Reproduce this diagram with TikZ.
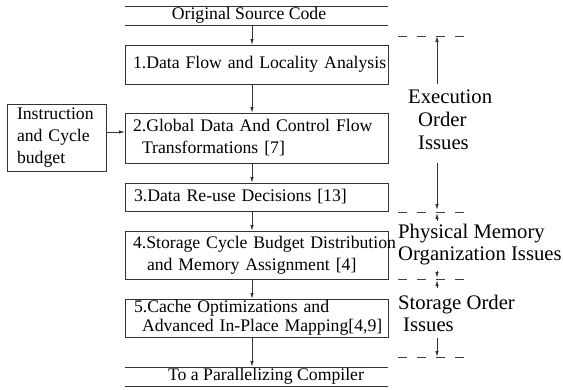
\documentclass[tikz,border=0pt]{standalone}
\usepackage{fontspec}
\setmainfont{Liberation Serif}
\usepackage{tikz}
\usetikzlibrary{arrows.meta,positioning}

\newcommand{\boxfont}{\fontsize{17.7}{22}\selectfont}
\newcommand{\tightfont}{\fontsize{17.7}{19}\selectfont}
\newcommand{\sidefont}{\fontsize{20.7}{22.8}\selectfont}
\newcommand{\steplines}[1]{\begin{tabular}{@{}l@{}}#1\end{tabular}}

\begin{document}
\begin{tikzpicture}[x=1pt, y=-1pt, node distance=20pt,
  stepbox/.style={draw=black!80, line width=0.9pt, outer sep=0pt, minimum width=263pt,
    text width=247pt, inner xsep=8pt, inner ysep=0pt, align=left, font=\boxfont},
  inbox/.style={draw=black!80, line width=0.9pt, outer sep=0pt, minimum width=99pt,
    minimum height=67pt, text width=79pt, inner xsep=10pt, inner ysep=0pt, align=left, font=\boxfont},
  endbar/.style={outer sep=0pt, minimum width=263pt, minimum height=19pt, inner sep=0pt, font=\boxfont},
  bar/.style={draw=black!80, line width=0.9pt},
  flow/.style={draw=black!80, line width=0.9pt, -{Latex[length=6pt,width=3.5pt]}},
  sep/.style={draw=black!75, line width=0.9pt, dash pattern=on 9pt off 10pt},
  issue/.style={anchor=west, align=left, inner sep=0pt, font=\sidefont}]

  \useasboundingbox (0,0) rectangle (563,389);

  \node[endbar] (src) at (256.5,15.5) {\hspace*{-15pt}Original Source Code};
  \node[stepbox, minimum height=39pt, below=of src] (s1) {\steplines{1.Data Flow and Locality Analysis}};
  \node[stepbox, minimum height=50pt, below=29pt of s1] (s2) {\steplines{2.Global Data And Control Flow\\\hspace*{9pt}Transformations [7]}};
  \node[stepbox, minimum height=28pt, below=of s2] (s3) {\steplines{\hspace*{1pt}3.Data Re-use Decisions [13]}};
  \node[stepbox, minimum height=48pt, below=of s3] (s4) {\steplines{4.Storage Cycle Budget Distribution\\\hspace*{14pt}and Memory Assignment [4]}};
  \node[stepbox, minimum height=38pt, font=\tightfont, below=of s4] (s5) {\steplines{\hspace*{1pt}5.Cache Optimizations and\\\hspace*{9pt}Advanced In-Place Mapping[4,9]}};
  \node[endbar, below=30pt of s5] (dst) {\hspace*{19pt}To a Parallelizing Compiler};

  \node[inbox] (instr) at (56.5,137.5) {\steplines{Instruction\\and Cycle\\budget}};

  \foreach \n in {src,dst}
    \draw[bar] (\n.north west) -- (\n.north east) (\n.south west) -- (\n.south east);

  \foreach \a/\b in {src/s1,s1/s2,s2/s3,s3/s4,s4/s5,s5/dst}
    \draw[flow] ([xshift=-4.5pt]\a.south) -- ([xshift=-4.5pt]\b.north);

  \coordinate (ia) at ([yshift=5.5pt]instr.east);
  \draw[flow] (ia) -- (ia -| s2.west);

  \foreach \n/\y in {1/36,2/212,3/279,4/357} {
    \coordinate (dl\n) at (398,\y);
    \coordinate (dr\n) at (467,\y);
    \coordinate (m\n) at (437,\y);
    \draw[sep] (dl\n) -- (dr\n);
  }

  \node[issue] (exec) at (408,120) {Execution\\\hspace*{10pt}Order\\\hspace*{10pt}Issues};
  \node[issue] (phys) at (398,244.5) {Physical Memory\\Organization Issues};
  \node[issue] (stor) at (398,313.5) {Storage Order\\\hspace*{5pt}Issues};

  \coordinate (e1) at (437,84);
  \coordinate (e2) at (437,163);
  \coordinate (o1) at (437,338);
  \draw[flow] (e1) -- (m1);
  \draw[flow, shorten >=2pt] (e2) -- (m2);
  \draw[flow, shorten >=1pt] ([yshift=-9pt]m2) -- (m2);
  \draw[flow, shorten >=1pt] ([yshift=8pt]m3) -- (m3);
  \draw[flow, shorten >=1pt] ([yshift=-9pt]m3) -- (m3);
  \draw[flow] (o1) -- (m4);
\end{tikzpicture}
\end{document}
